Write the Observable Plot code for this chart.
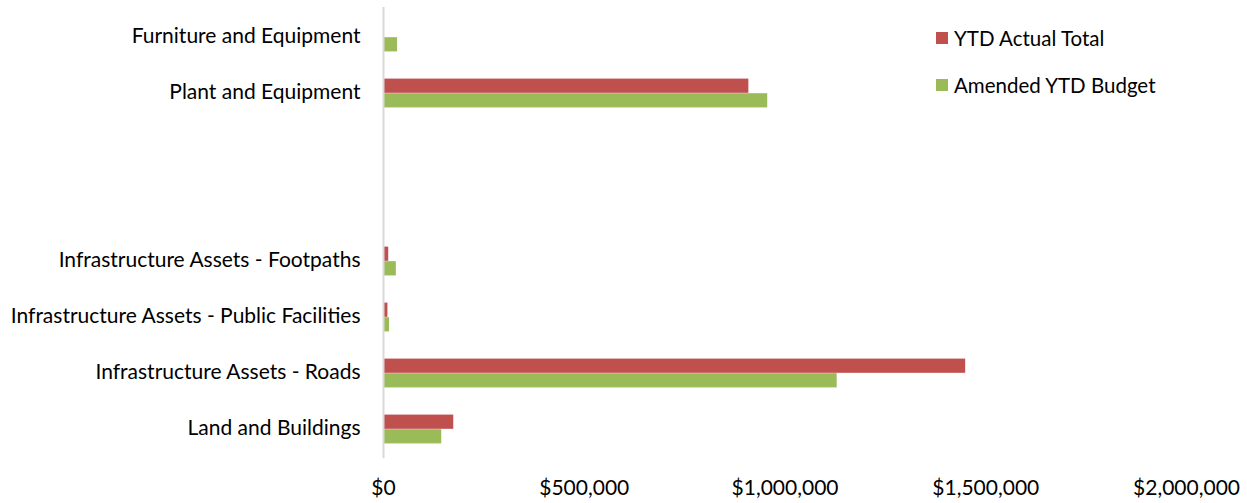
<!DOCTYPE html>
<html>
<head>
<meta charset="utf-8">
<script src="https://cdn.jsdelivr.net/npm/d3@7"></script>
<script src="https://cdn.jsdelivr.net/npm/@observablehq/plot@0.6"></script>
<style>
  html, body { margin: 0; padding: 0; background: #fff; }
  #wrap { position: relative; width: 1247px; height: 503px; font-family: Lato, "Noto Sans", sans-serif; }
  #legend { position: absolute; left: 936px; top: 24px; font-size: 20.5px; color: #000; }
  #legend .item { display: flex; align-items: center; height: 28px; margin-bottom: 19px; }
  #legend .sw { width: 12px; height: 12px; margin-right: 6px; }
</style>
</head>
<body>
<div id="wrap"></div>
<script>
const categories = [
  "Furniture and Equipment",
  "Plant and Equipment",
  " ",
  "  ",
  "Infrastructure Assets - Footpaths",
  "Infrastructure Assets - Public Facilities",
  "Infrastructure Assets - Roads",
  "Land and Buildings"
];
const seriesNames = ["YTD Actual Total", "Amended YTD Budget"];
const seriesColors = ["#C0504D", "#9BBB59"];
const actualValues = [0, 910000, null, null, 13000, 11000, 1450000, 175000];
const budgetValues = [35000, 957000, null, null, 32000, 15000, 1130000, 145000];
const xTicks = [0, 500000, 1000000, 1500000, 2000000];

const actualRows = categories.map((c, i) => ({category: c, value: actualValues[i]})).filter(d => d.value != null);
const budgetRows = categories.map((c, i) => ({category: c, value: budgetValues[i]})).filter(d => d.value != null);

const height = 503, marginTop = 7, marginBottom = 45;
const band = (height - marginTop - marginBottom) / categories.length;
const barH = 14.6;
const half = band / 2;

const fmt = d3.format(",");
const chart = Plot.plot({
  width: 1247,
  height,
  marginLeft: 383,
  marginRight: 61,
  marginTop,
  marginBottom,
  style: {fontFamily: "Lato, 'Noto Sans', sans-serif", fontSize: "21px", color: "#000", background: "#fff"},
  x: {domain: [0, 2000000], label: null},
  y: {domain: categories, padding: 0, label: null},
  marks: [
    Plot.barX(actualRows, {x: "value", y: "category", fill: seriesColors[0], insetTop: half - barH, insetBottom: half}),
    Plot.barX(budgetRows, {x: "value", y: "category", fill: seriesColors[1], insetTop: half, insetBottom: half - barH}),
    Plot.ruleX([0], {stroke: "#d9d9d9", strokeWidth: 2}),
    Plot.axisX({ticks: xTicks, tickFormat: d => "$" + fmt(d), tickSize: 0, tickPadding: 22, label: null}),
    Plot.axisY({tickSize: 0, tickPadding: 23, dy: -1, label: null})
  ]
});

const wrap = document.getElementById("wrap");
wrap.appendChild(chart);
const legend = document.createElement("div");
legend.id = "legend";
seriesNames.forEach((name, i) => {
  const item = document.createElement("div");
  item.className = "item";
  const sw = document.createElement("span");
  sw.className = "sw";
  sw.style.background = seriesColors[i];
  const label = document.createElement("span");
  label.textContent = name;
  item.appendChild(sw);
  item.appendChild(label);
  legend.appendChild(item);
});
wrap.appendChild(legend);
</script>
</body>
</html>
